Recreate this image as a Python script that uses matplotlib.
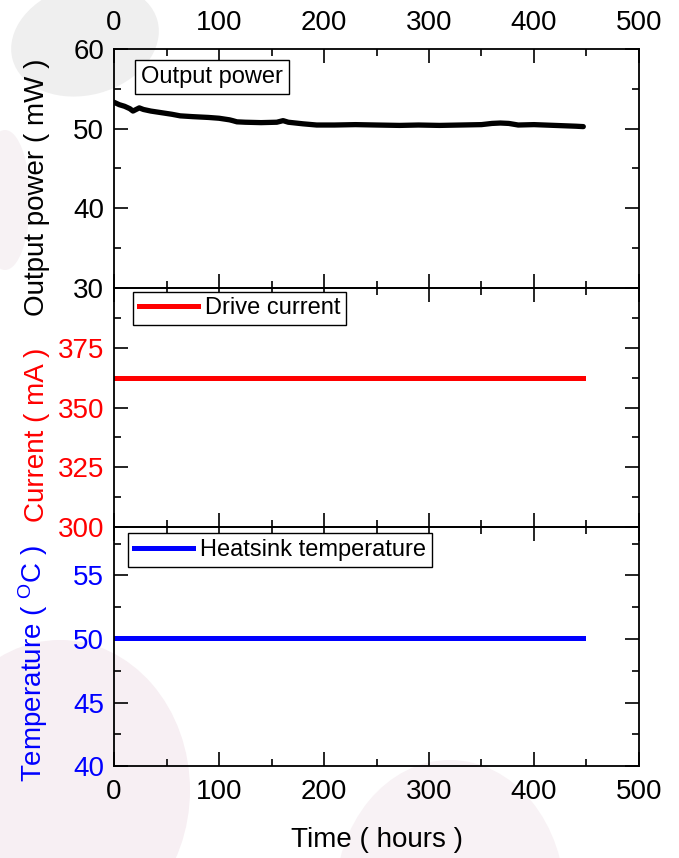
import matplotlib
matplotlib.use("Agg")
import matplotlib.pyplot as plt
from matplotlib.patches import Ellipse
from matplotlib.ticker import MultipleLocator

plt.rcParams["font.family"] = ["Liberation Sans", "DejaVu Sans"]

# Output power (mW) vs time (hours)
time_power = [0, 5, 10, 15, 18, 21, 24, 28, 35, 45, 55, 63, 75, 90, 100, 110,
              113, 117, 125, 140, 155, 161, 166, 180, 193, 210, 230, 250, 272,
              290, 310, 330, 350, 360, 368, 376, 385, 400, 420, 440, 447]
power = [53.3, 53.0, 52.8, 52.5, 52.2, 52.4, 52.6, 52.4, 52.2, 52.0, 51.8,
         51.6, 51.5, 51.4, 51.3, 51.1, 51.0, 50.85, 50.8, 50.75, 50.8, 51.0,
         50.8, 50.6, 50.45, 50.45, 50.5, 50.45, 50.4, 50.45, 50.4, 50.45,
         50.5, 50.65, 50.7, 50.65, 50.45, 50.5, 50.4, 50.3, 50.25]

# Drive current (mA)
time_current = [0, 100, 200, 300, 400, 447]
current = [362.5, 362.5, 362.5, 362.5, 362.5, 362.5]

# Heatsink temperature (C)
time_temp = [0, 100, 200, 300, 400, 447]
temperature = [50.05, 50.05, 50.05, 50.05, 50.05, 50.05]

fig = plt.figure(figsize=(6.79, 8.58), dpi=100)

# faint watermark blobs in the background
bg = fig.add_axes([0, 0, 1, 1], zorder=-10)
bg.set_xlim(0, 679)
bg.set_ylim(858, 0)
bg.axis("off")
bg.add_patch(Ellipse((85, 40), 150, 110, angle=-15, color="#efefef", lw=0))
bg.add_patch(Ellipse((5, 200), 50, 140, color="#f7f2f4", lw=0))
bg.add_patch(Ellipse((60, 790), 260, 300, color="#f7eff3", lw=0))
bg.add_patch(Ellipse((450, 900), 230, 280, color="#f8f2f5", lw=0))

axes = fig.subplots(3, 1, sharex=True,
                    gridspec_kw=dict(hspace=0, left=0.168, right=0.941,
                                     top=0.943, bottom=0.107))
ax1, ax2, ax3 = axes

for ax in axes:
    ax.set_facecolor("none")
    ax.set_xlim(0, 500)
    ax.xaxis.set_major_locator(MultipleLocator(100))
    ax.xaxis.set_minor_locator(MultipleLocator(50))
    ax.tick_params(which="both", direction="in", top=True, right=True,
                   width=1.2, labelsize=20)
    ax.tick_params(which="major", length=10)
    ax.tick_params(which="minor", length=5)
    ax.tick_params(axis="y", pad=7)
    ax.tick_params(axis="x", pad=9)
    for s in ax.spines.values():
        s.set_linewidth(1.3)

ax1.tick_params(labeltop=True)

# top panel: output power
ax1.plot(time_power, power, color="black", lw=3.8, solid_capstyle="round")
ax1.set_ylim(30, 60)
ax1.yaxis.set_major_locator(MultipleLocator(10))
ax1.yaxis.set_minor_locator(MultipleLocator(5))
ax1.set_ylabel("Output power ( mW )", fontsize=20)
ax1.yaxis.set_label_coords(-0.122, 0.42)
ax1.text(0.052, 0.93, "Output power", transform=ax1.transAxes, fontsize=17,
         va="top", ha="left",
         bbox=dict(boxstyle="square,pad=0.25", fc="white", ec="black", lw=1))

# middle panel: drive current
ax2.plot(time_current, current, color="red", lw=3.6, label="Drive current")
ax2.set_ylim(300, 400)
ax2.set_yticks([300, 325, 350, 375])
ax2.yaxis.set_minor_locator(MultipleLocator(12.5))
ax2.tick_params(axis="y", labelcolor="red")
ax2.set_ylabel("Current ( mA )", fontsize=20, color="red")
ax2.yaxis.set_label_coords(-0.122, 0.385)
ax2.legend(loc="upper left", bbox_to_anchor=(0.036, 0.985), fontsize=17,
           frameon=True, fancybox=False, edgecolor="black", framealpha=1,
           handlelength=2.5, handletextpad=0.3, borderpad=0.25,
           borderaxespad=0)

# bottom panel: heatsink temperature
ax3.plot(time_temp, temperature, color="blue", lw=3.6,
         label="Heatsink temperature")
ax3.set_ylim(40, 58.8)
ax3.set_yticks([40, 45, 50, 55])
ax3.yaxis.set_minor_locator(MultipleLocator(2.5))
ax3.tick_params(axis="y", labelcolor="blue")
ax3.set_ylabel("Temperature ( $\\mathregular{^{O}}$C )", fontsize=20,
               color="blue")
ax3.yaxis.set_label_coords(-0.122, 0.43)
ax3.legend(loc="upper left", bbox_to_anchor=(0.027, 0.975), fontsize=17,
           frameon=True, fancybox=False, edgecolor="black", framealpha=1,
           handlelength=2.5, handletextpad=0.3, borderpad=0.25,
           borderaxespad=0)
ax3.set_xlabel("Time ( hours )", fontsize=20, labelpad=16)

for ax in axes:
    leg = ax.get_legend()
    if leg is not None:
        leg.get_frame().set_linewidth(1)

fig.savefig("out.png", dpi=100)
